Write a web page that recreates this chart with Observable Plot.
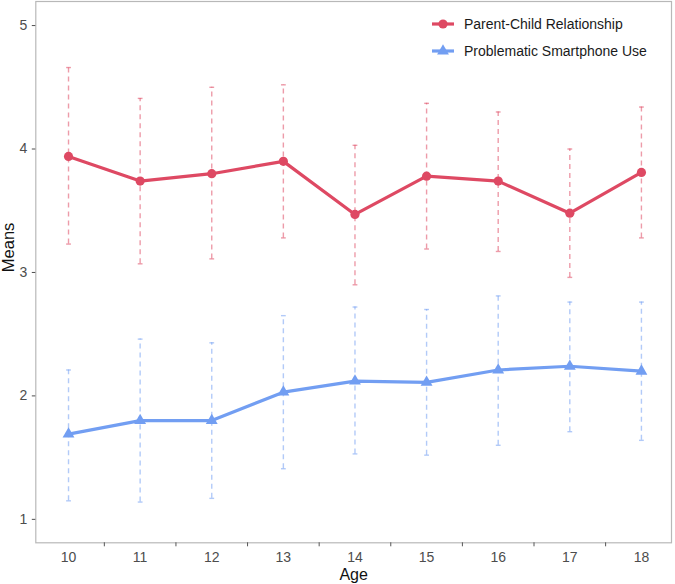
<!DOCTYPE html>
<html><head><meta charset="utf-8">
<script src="https://cdn.jsdelivr.net/npm/d3@7"></script>
<script src="https://cdn.jsdelivr.net/npm/@observablehq/plot@0.6"></script>
<style>
body{margin:0;background:#fff;font-family:"Liberation Sans",Arial,sans-serif;}
#wrap{position:relative;width:675px;height:584px;}
.legend{position:absolute;left:432px;top:10.5px;font-size:14px;color:#1a1a1a;}
.legend .row{display:flex;align-items:center;height:27px;white-space:nowrap;}
.legend svg{margin-right:10px;}
</style></head><body><div id="wrap"></div>
<script>
// ---- data ----
const ages = [10, 11, 12, 13, 14, 15, 16, 17, 18];
const pcrMean = [3.94, 3.74, 3.80, 3.90, 3.47, 3.78, 3.74, 3.48, 3.81];
const pcrLow  = [3.23, 3.07, 3.11, 3.28, 2.90, 3.19, 3.17, 2.96, 3.28];
const pcrHigh = [4.66, 4.41, 4.50, 4.52, 4.03, 4.37, 4.30, 4.00, 4.34];
const psuMean = [1.69, 1.80, 1.80, 2.03, 2.12, 2.11, 2.21, 2.24, 2.20];
const psuLow  = [1.15, 1.14, 1.17, 1.41, 1.53, 1.52, 1.60, 1.71, 1.64];
const psuHigh = [2.21, 2.46, 2.43, 2.65, 2.72, 2.70, 2.81, 2.76, 2.76];
const seriesNames = ["Parent-Child Relationship", "Problematic Smartphone Use"];
const yTicks = [1, 2, 3, 4, 5];
const xHalfTicks = [10.5, 11.5, 12.5, 13.5, 14.5, 15.5, 16.5, 17.5];

const colors = {"Parent-Child Relationship": "#DE4963", "Problematic Smartphone Use": "#729EF2"};
const symbols = {"Parent-Child Relationship": "circle", "Problematic Smartphone Use": "triangle"};

const rows = [];
ages.forEach((a, i) => {
  rows.push({age: a, series: seriesNames[0], mean: pcrMean[i], low: pcrLow[i], high: pcrHigh[i]});
  rows.push({age: a, series: seriesNames[1], mean: psuMean[i], low: psuLow[i], high: psuHigh[i]});
});

const capSymbol = {draw(ctx, size) { const w = Math.sqrt(size / Math.PI); ctx.moveTo(-w, 0); ctx.lineTo(w, 0); }};

const font = '"Liberation Sans", Arial, sans-serif';
const chart = Plot.plot({
  width: 675, height: 584,
  marginLeft: 35.3, marginRight: 4, marginTop: 1, marginBottom: 41.7,
  style: {fontFamily: font, background: "#fff"},
  x: {domain: [9.543, 18.42]},
  y: {domain: [0.81, 5.195]},
  color: {domain: seriesNames, range: seriesNames.map(s => colors[s])},
  marks: [
    // error bars
    Plot.ruleX(rows, {x: "age", y1: "low", y2: "high", stroke: "series", strokeOpacity: 0.55, strokeWidth: 1.4, strokeDasharray: "5,4"}),
    Plot.dot(rows, {x: "age", y: "low", symbol: capSymbol, r: 2.4, stroke: "series", strokeOpacity: 0.55, strokeWidth: 1.4, fill: "none"}),
    Plot.dot(rows, {x: "age", y: "high", symbol: capSymbol, r: 2.4, stroke: "series", strokeOpacity: 0.55, strokeWidth: 1.4, fill: "none"}),
    // lines
    Plot.line(rows, {x: "age", y: "mean", z: "series", stroke: "series", strokeWidth: 3.2}),
    Plot.dot(rows.filter(d => d.series === seriesNames[0]), {x: "age", y: "mean", fill: "series", r: 4.6, symbol: "circle"}),
    Plot.dot(rows.filter(d => d.series === seriesNames[1]), {x: "age", y: "mean", fill: "series", r: 4.4, symbol: "triangle"}),
    // frame
    Plot.frame({stroke: "#b8b8b8", strokeWidth: 1.2}),
    // axes
    Plot.axisY({ticks: yTicks, tickSize: 3.5, tickPadding: 5, fontSize: 14, color: "#4d4d4d", label: null, tickFormat: d => String(d)}),
    Plot.axisX({ticks: ages, tickSize: 0, tickPadding: 9, fontSize: 14, color: "#4d4d4d", label: null, tickFormat: d => String(d)}),
    Plot.axisX({ticks: xHalfTicks, tickSize: 4, tickFormat: () => "", color: "#555", label: null}),
    Plot.text(["Means"], {frameAnchor: "left", rotate: -90, dx: -27, fontSize: 16.5, fill: "#111", lineAnchor: "middle"}),
    Plot.text(["Age"], {frameAnchor: "bottom", dy: 32.5, fontSize: 16, fill: "#111", lineAnchor: "middle"})
  ]
});

const wrap = document.getElementById("wrap");
wrap.appendChild(chart);

// legend
const legend = document.createElement("div");
legend.className = "legend";
seriesNames.forEach(s => {
  const row = document.createElement("div");
  row.className = "row";
  const sym = symbols[s] === "circle"
    ? `<circle cx="11" cy="7" r="4.6" fill="${colors[s]}"/>`
    : `<path d="${d3.symbol(d3.symbolTriangle, Math.PI * 4.4 * 4.4)()}" transform="translate(11,7)" fill="${colors[s]}"/>`;
  row.innerHTML = `<svg width="22" height="14"><line x1="0" x2="22" y1="7" y2="7" stroke="${colors[s]}" stroke-width="3.2"/>${sym}</svg><span>${s}</span>`;
  legend.appendChild(row);
});
wrap.appendChild(legend);
</script></body></html>
